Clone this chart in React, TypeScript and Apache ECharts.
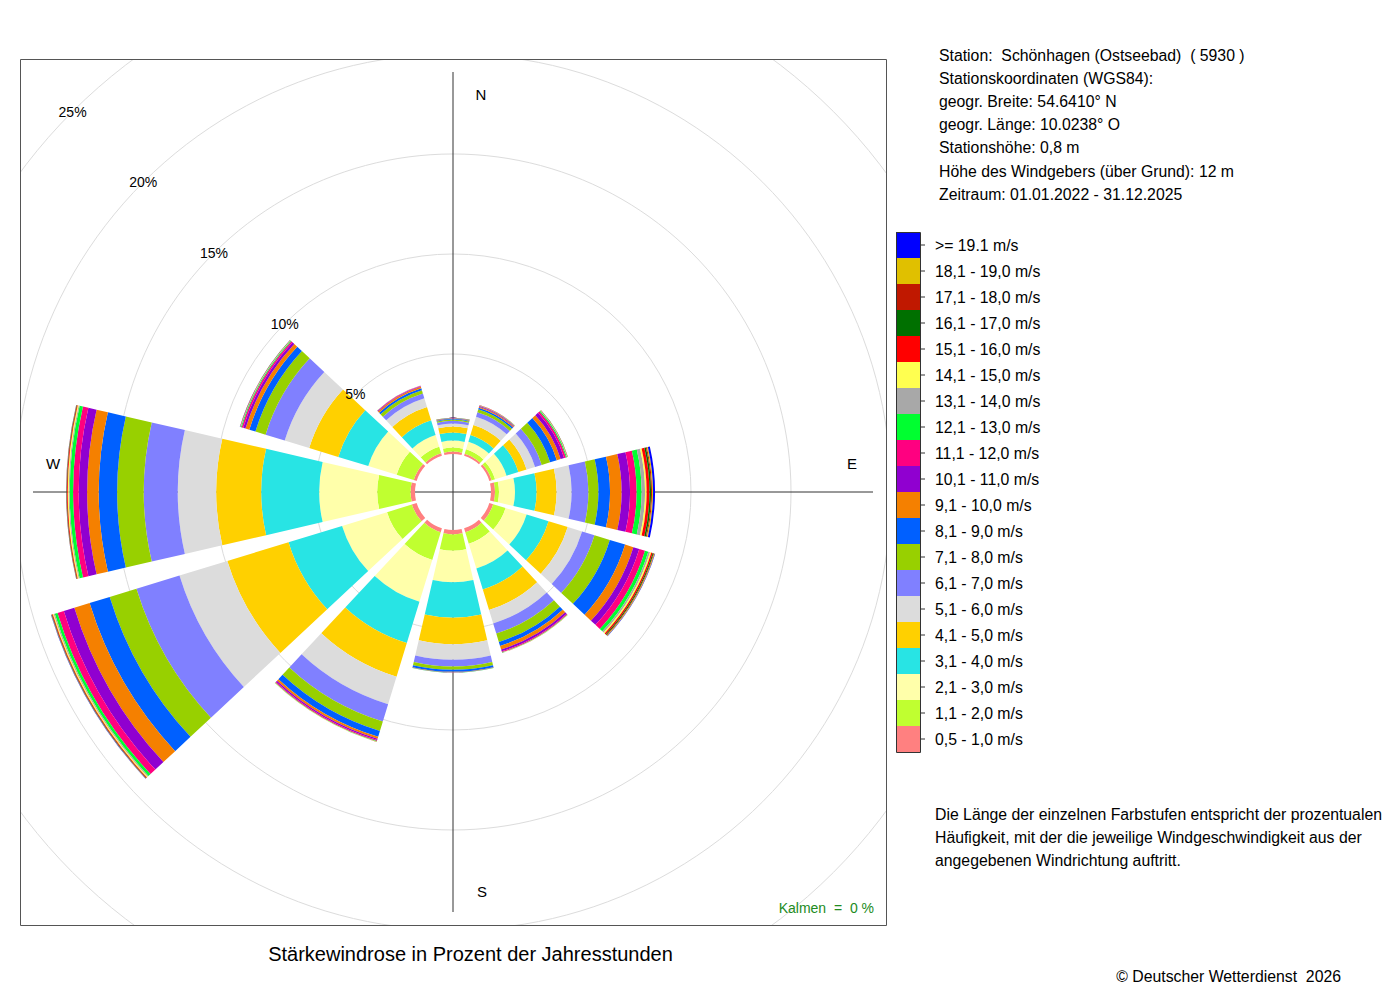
import React, { useEffect, useRef } from "react";
import * as echarts from "echarts";

// ---------- data ----------
const directions = ["N", "NNO", "ONO", "O", "OSO", "SSO", "S", "SSW", "WSW", "W", "WNW", "NNW"];

const speedClasses = [
  "0,5 - 1,0 m/s", "1,1 - 2,0 m/s", "2,1 - 3,0 m/s", "3,1 - 4,0 m/s", "4,1 - 5,0 m/s",
  "5,1 - 6,0 m/s", "6,1 - 7,0 m/s", "7,1 - 8,0 m/s", "8,1 - 9,0 m/s", "9,1 - 10,0 m/s",
  "10,1 - 11,0 m/s", "11,1 - 12,0 m/s", "12,1 - 13,0 m/s", "13,1 - 14,0 m/s", "14,1 - 15,0 m/s",
  "15,1 - 16,0 m/s", "16,1 - 17,0 m/s", "17,1 - 18,0 m/s", "18,1 - 19,0 m/s", ">= 19.1 m/s",
];

const classColors = [
  "#FF8080", "#C0FF30", "#FFFFAA", "#28E4E4", "#FFD000",
  "#DCDCDC", "#8080FF", "#98D000", "#0060FF", "#F58000",
  "#9000D0", "#FF0080", "#00FF30", "#A8A8A8", "#FFFF50",
  "#FF0000", "#007000", "#C01800", "#E0C000", "#0000FF",
];

// percent of hours per speed class (inner -> outer) for each direction sector
const dirN = [0.12, 0.2, 0.35, 0.4, 0.3, 0.16, 0.13, 0.06, 0.04, 0.02, 0.01, 0.01, 0.005, 0.003, 0.003, 0.002, 0.001, 0.001, 0, 0];
const dirNNO = [0.1, 0.23, 0.4, 0.35, 0.52, 0.44, 0.23, 0.15, 0.09, 0.05, 0.03, 0.02, 0.015, 0.01, 0.005, 0.005, 0.003, 0.002, 0, 0];
const dirONO = [0.12, 0.18, 0.6, 0.62, 0.43, 0.44, 0.35, 0.44, 0.35, 0.2, 0.18, 0.1, 0.05, 0.02, 0.01, 0.01, 0.005, 0.003, 0.001, 0.001];
const dirO = [0.2, 0.2, 0.8, 1.08, 1.0, 0.75, 0.84, 0.5, 0.58, 0.58, 0.42, 0.33, 0.25, 0.17, 0.08, 0.14, 0.08, 0.05, 0.05, 0.1];
const dirOSO = [0.2, 0.65, 1.1, 1.15, 1.0, 0.75, 0.65, 0.8, 0.8, 0.43, 0.31, 0.3, 0.17, 0.09, 0.07, 0.07, 0.05, 0.03, 0.03, 0.02];
const dirSSO = [0.2, 0.6, 1.3, 1.1, 1.07, 0.7, 0.53, 0.44, 0.21, 0.18, 0.1, 0.04, 0.02, 0.01, 0.005, 0.005, 0.003, 0.002, 0, 0];
const dirS = [0.22, 0.82, 1.57, 1.77, 1.33, 0.78, 0.33, 0.17, 0.1, 0.02, 0.01, 0.005, 0.003, 0.002, 0, 0, 0, 0, 0, 0];
const dirSSW = [0.2, 1.45, 2.19, 2.16, 1.76, 1.44, 0.9, 0.5, 0.3, 0.1, 0.07, 0.05, 0.02, 0.01, 0.005, 0.005, 0.003, 0.002, 0, 0];
const dirWSW = [0.25, 1.3, 2.35, 2.8, 3.2, 2.5, 2.25, 1.4, 1.05, 0.8, 0.55, 0.33, 0.14, 0.06, 0.05, 0.04, 0.02, 0.01, 0.01, 0.01];
const dirW = [0.22, 1.67, 2.9, 2.9, 2.25, 1.92, 1.7, 1.33, 0.92, 0.58, 0.42, 0.28, 0.17, 0.05, 0.05, 0.04, 0.02, 0.01, 0.005, 0.005];
const dirWNW = [0.15, 0.9, 1.48, 1.57, 1.52, 1.28, 1.0, 0.53, 0.32, 0.2, 0.12, 0.08, 0.04, 0.02, 0.01, 0.01, 0.005, 0.005, 0, 0.005];
const dirNNW = [0.12, 0.35, 0.61, 0.77, 0.7, 0.45, 0.25, 0.17, 0.1, 0.08, 0.03, 0.02, 0.01, 0.005, 0.003, 0.002, 0, 0, 0, 0];

const sectorValues = [dirN, dirNNO, dirONO, dirO, dirOSO, dirSSO, dirS, dirSSW, dirWSW, dirW, dirWNW, dirNNW];

const radiusMax = 25;
const radiusInterval = 5;

const compassLabels = ["N", "E", "S", "W"];

const infoLines = [
  "Station:  Schönhagen (Ostseebad)  ( 5930 )",
  "Stationskoordinaten (WGS84):",
  "geogr. Breite: 54.6410° N",
  "geogr. Länge: 10.0238° O",
  "Stationshöhe: 0,8 m",
  "Höhe des Windgebers (über Grund): 12 m",
  "Zeitraum: 01.01.2022 - 31.12.2025",
];

const noteLines = [
  "Die Länge der einzelnen Farbstufen entspricht der prozentualen",
  "Häufigkeit, mit der die jeweilige Windgeschwindigkeit aus der",
  "angegebenen Windrichtung auftritt.",
];

const titleText = "Stärkewindrose in Prozent der Jahresstunden";
const calmText = "Kalmen  =  0 %";
const copyrightText = "© Deutscher Wetterdienst  2026";

// ---------- layout ----------
const FONT = '"Liberation Sans", Arial, Helvetica, sans-serif';
const CX = 453;
const CY = 492;
const R_IN = 38;
const R_OUT = 538;
const BOX = { x: 20, y: 59, w: 866, h: 866 };
const LEG = { x: 896, y: 232, w: 24, h: 26 };

export default function App() {
  const ref = useRef<HTMLDivElement>(null);

  useEffect(() => {
    if (!ref.current) return;
    const chart = echarts.init(ref.current, undefined, { renderer: "svg" });

    const series = speedClasses.map((name, k) => ({
      name,
      type: "bar",
      coordinateSystem: "polar",
      polarIndex: 0,
      stack: "wind",
      barWidth: "86.7%",
      silent: true,
      data: sectorValues.map((d) => d[k]),
      itemStyle: { color: classColors[k] },
    }));

    const txt = (text: string, x: number, y: number, size: number, align = "left", fill = "#000", z = 60) => ({
      type: "text",
      z,
      silent: true,
      style: { text, x, y, fill, fontSize: size, fontFamily: FONT, textAlign: align, textVerticalAlign: "middle" },
    });

    const compassOffsets: Record<string, [number, number]> = {
      N: [28, -398],
      E: [399, -29],
      S: [29, 399],
      W: [-400, -29],
    };

    const graphicEls: any[] = [
      // masks clipping the grid circles to the plot box
      { type: "rect", z: 50, silent: true, shape: { x: 0, y: 0, width: 1400, height: BOX.y }, style: { fill: "#fff" } },
      { type: "rect", z: 50, silent: true, shape: { x: 0, y: BOX.y + BOX.h, width: 1400, height: 1000 }, style: { fill: "#fff" } },
      { type: "rect", z: 50, silent: true, shape: { x: 0, y: 0, width: BOX.x, height: 1000 }, style: { fill: "#fff" } },
      { type: "rect", z: 50, silent: true, shape: { x: BOX.x + BOX.w, y: 0, width: 600, height: 1000 }, style: { fill: "#fff" } },
      // plot frame
      { type: "rect", z: 60, silent: true, shape: { x: BOX.x + 0.5, y: BOX.y + 0.5, width: BOX.w, height: BOX.h }, style: { fill: "none", stroke: "#555", lineWidth: 1 } },
      ...compassLabels.map((c) => txt(c, CX + compassOffsets[c][0], CY + compassOffsets[c][1], 15, "center")),
      ...infoLines.map((l, i) => txt(l, 939, 55 + i * 23.2, 15.8)),
      ...noteLines.map((l, i) => txt(l, 935, 814 + i * 23, 15.8)),
      txt(titleText, 470.5, 954, 20, "center"),
      txt(calmText, 874, 908, 14, "right", "#228B22"),
      txt(copyrightText, 1341, 976, 15.8, "right"),
      // legend frame and ticks
      { type: "rect", z: 120, silent: true, shape: { x: LEG.x + 0.5, y: LEG.y + 0.5, width: LEG.w, height: LEG.h * speedClasses.length }, style: { fill: "none", stroke: "#333", lineWidth: 1 } },
      ...speedClasses.map((_, i) => ({
        type: "line",
        z: 120,
        silent: true,
        shape: { x1: LEG.x + LEG.w, y1: LEG.y + LEG.h * (i + 0.5), x2: LEG.x + LEG.w + 5, y2: LEG.y + LEG.h * (i + 0.5) },
        style: { stroke: "#333", lineWidth: 1 },
      })),
    ];

    const gridColors = [
      "rgba(0,0,0,0)",
      ...Array.from({ length: radiusMax / radiusInterval }, () => "#DCDCDC"),
    ];

    chart.setOption({
      animation: false,
      backgroundColor: "#fff",
      polar: [
        { center: [CX, CY], radius: [R_IN, R_OUT] },
        { center: [CX, CY], radius: [R_IN, R_OUT] },
        { center: [CX, CY], radius: [0, 420] },
      ],
      angleAxis: [
        {
          polarIndex: 0,
          type: "category",
          data: directions,
          startAngle: 105,
          clockwise: true,
          axisLine: { show: false },
          axisTick: { show: false },
          axisLabel: { show: false },
          splitLine: { show: false },
        },
        {
          polarIndex: 1,
          type: "value",
          min: 0,
          max: 360,
          startAngle: 135,
          axisLine: { show: false },
          axisTick: { show: false },
          axisLabel: { show: false },
          splitLine: { show: false },
        },
        {
          polarIndex: 2,
          type: "value",
          min: 0,
          max: 360,
          interval: 90,
          startAngle: 90,
          axisLine: { show: false },
          axisTick: { show: false },
          axisLabel: { show: false },
          splitLine: { show: true, lineStyle: { color: "#333", width: 1 } },
        },
      ],
      radiusAxis: [
        {
          polarIndex: 0,
          type: "value",
          min: 0,
          max: radiusMax,
          interval: radiusInterval,
          axisLine: { show: false },
          axisTick: { show: false },
          axisLabel: { show: false },
          splitLine: { show: true, lineStyle: { color: gridColors, width: 1 } },
        },
        {
          polarIndex: 1,
          type: "value",
          min: 0,
          max: radiusMax,
          interval: radiusInterval,
          z: 70,
          axisLine: { show: false },
          axisTick: { show: false },
          splitLine: { show: false },
          axisLabel: {
            show: true,
            margin: 0,
            align: "center",
            verticalAlign: "middle",
            fontSize: 14,
            fontFamily: FONT,
            color: "#000",
            formatter: (v: number) => (v === 0 ? "" : v + "%"),
          },
        },
        {
          polarIndex: 2,
          type: "value",
          min: 0,
          max: 1,
          show: false,
        },
      ],
      legend: {
        orient: "vertical",
        left: LEG.x,
        top: LEG.y,
        padding: 0,
        itemWidth: LEG.w,
        itemHeight: LEG.h,
        itemGap: 0,
        icon: "rect",
        selectedMode: false,
        z: 100,
        data: [...speedClasses].reverse(),
        textStyle: { fontSize: 15.8, fontFamily: FONT, color: "#000", padding: [0, 0, 0, 10] },
      },
      graphic: { elements: graphicEls },
      series,
    });

    return () => chart.dispose();
  }, []);

  return (
    <div
      ref={ref}
      style={{ position: "absolute", left: 0, top: 0, width: 1400, height: 1000, background: "#fff" }}
    />
  );
}
